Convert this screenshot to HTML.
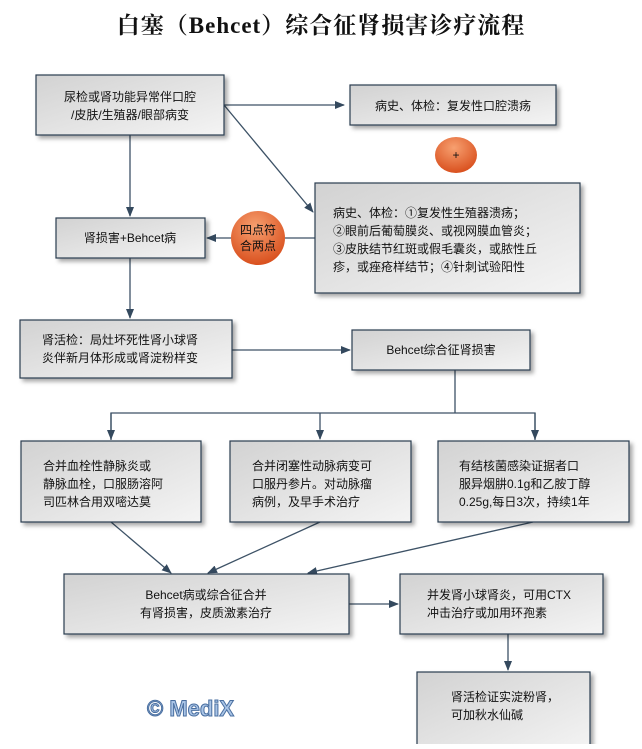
<!DOCTYPE html>
<html><head><meta charset="utf-8"><style>
body{margin:0;background:#fff;}
svg text{font-family:"Liberation Sans","Noto Sans CJK SC",sans-serif;font-size:12px;fill:#111;}
</style></head><body>
<svg width="642" height="744" viewBox="0 0 642 744" xmlns="http://www.w3.org/2000/svg">
<defs>
<linearGradient id="g" x1="0" y1="0" x2="1" y2="1"><stop offset="0" stop-color="#d2d2d2"/><stop offset="1" stop-color="#f4f4f4"/></linearGradient>
<radialGradient id="o" cx="0.45" cy="0.3" r="0.7"><stop offset="0" stop-color="#f7a070"/><stop offset="1" stop-color="#d9501e"/></radialGradient>
<marker id="a" markerWidth="10" markerHeight="8" refX="9" refY="4" orient="auto" markerUnits="userSpaceOnUse"><path d="M0,0 L10,4 L0,8 Z" fill="#34495e"/></marker>
<filter id="s" x="-10%" y="-10%" width="130%" height="140%"><feDropShadow dx="3" dy="3" stdDeviation="2" flood-color="#000" flood-opacity="0.35"/></filter>
</defs>
<text x="321" y="33" text-anchor="middle" style="font-size:23px;font-weight:bold;font-family:'Liberation Serif','Noto Serif CJK SC',serif;letter-spacing:1px">白塞（Behcet）综合征肾损害诊疗流程</text>
<g stroke="#3d5266" stroke-width="1.3" fill="none">
<line x1="224" y1="105" x2="344" y2="105" marker-end="url(#a)"/>
<line x1="224" y1="105" x2="313" y2="212" marker-end="url(#a)"/>
<line x1="130" y1="135" x2="130" y2="216" marker-end="url(#a)"/>
<line x1="315" y1="238" x2="285" y2="238"/>
<line x1="231" y1="238" x2="207" y2="238" marker-end="url(#a)"/>
<line x1="130" y1="258" x2="130" y2="318" marker-end="url(#a)"/>
<line x1="232" y1="350" x2="350" y2="350" marker-end="url(#a)"/>
<line x1="455" y1="370" x2="455" y2="413"/>
<polyline points="111,440 111,413 535,413 535,440"/>
<line x1="111" y1="413" x2="111" y2="439" marker-end="url(#a)"/>
<line x1="320" y1="413" x2="320" y2="439" marker-end="url(#a)"/>
<line x1="535" y1="413" x2="535" y2="439" marker-end="url(#a)"/>
<line x1="111" y1="522" x2="171" y2="573" marker-end="url(#a)"/>
<line x1="320" y1="522" x2="208" y2="573" marker-end="url(#a)"/>
<line x1="533" y1="522" x2="308" y2="573" marker-end="url(#a)"/>
<line x1="349" y1="604" x2="398" y2="604" marker-end="url(#a)"/>
<line x1="508" y1="634" x2="508" y2="670" marker-end="url(#a)"/>
</g>
<g fill="url(#g)" stroke="#2c3e50" stroke-width="1.2" filter="url(#s)">
<rect x="36" y="75" width="188" height="60"/>
<rect x="350" y="85" width="206" height="40"/>
<rect x="315" y="183" width="265" height="110"/>
<rect x="56" y="218" width="149" height="40"/>
<rect x="20" y="320" width="212" height="58"/>
<rect x="352" y="330" width="178" height="40"/>
<rect x="21" y="441" width="180" height="81"/>
<rect x="230" y="441" width="181" height="81"/>
<rect x="438" y="441" width="191" height="81"/>
<rect x="64" y="574" width="285" height="60"/>
<rect x="400" y="574" width="203" height="60"/>
<rect x="417" y="672" width="173" height="80"/>
</g>
<ellipse cx="456" cy="155" rx="21" ry="18" fill="url(#o)"/>
<text x="456" y="159" text-anchor="middle">+</text>
<ellipse cx="258" cy="238" rx="27" ry="27" fill="url(#o)"/>
<text x="258" y="234" text-anchor="middle">四点符</text>
<text x="258" y="250" text-anchor="middle">合两点</text>
<text x="130" y="101" text-anchor="middle">尿检或肾功能异常伴口腔</text>
<text x="130" y="119" text-anchor="middle">/皮肤/生殖器/眼部病变</text>
<text x="453" y="110" text-anchor="middle">病史、体检：复发性口腔溃疡</text>
<text x="333" y="217">病史、体检：①复发性生殖器溃疡；</text>
<text x="333" y="235">②眼前后葡萄膜炎、或视网膜血管炎；</text>
<text x="333" y="253">③皮肤结节红斑或假毛囊炎，或脓性丘</text>
<text x="333" y="271">疹，或痤疮样结节；④针刺试验阳性</text>
<text x="130" y="242" text-anchor="middle">肾损害+Behcet病</text>
<text x="42" y="344">肾活检：局灶坏死性肾小球肾</text>
<text x="42" y="362">炎伴新月体形成或肾淀粉样变</text>
<text x="441" y="354" text-anchor="middle">Behcet综合征肾损害</text>
<text x="43" y="470">合并血栓性静脉炎或</text>
<text x="43" y="488">静脉血栓，口服肠溶阿</text>
<text x="43" y="506">司匹林合用双嘧达莫</text>
<text x="252" y="470">合并闭塞性动脉病变可</text>
<text x="252" y="488">口服丹参片。对动脉瘤</text>
<text x="252" y="506">病例，及早手术治疗</text>
<text x="459" y="470">有结核菌感染证据者口</text>
<text x="459" y="488">服异烟肼0.1g和乙胺丁醇</text>
<text x="459" y="506">0.25g,每日3次，持续1年</text>
<text x="206" y="599" text-anchor="middle">Behcet病或综合征合并</text>
<text x="206" y="617" text-anchor="middle">有肾损害，皮质激素治疗</text>
<text x="427" y="599">并发肾小球肾炎，可用CTX</text>
<text x="427" y="617">冲击治疗或加用环孢素</text>
<text x="451" y="701">肾活检证实淀粉肾，</text>
<text x="451" y="719">可加秋水仙碱</text>
<text x="147" y="716" style="font-size:22px;font-weight:bold;fill:#a9c4e6;stroke:#4a6fa0;stroke-width:1">© MediX</text>
</svg>
</body></html>
